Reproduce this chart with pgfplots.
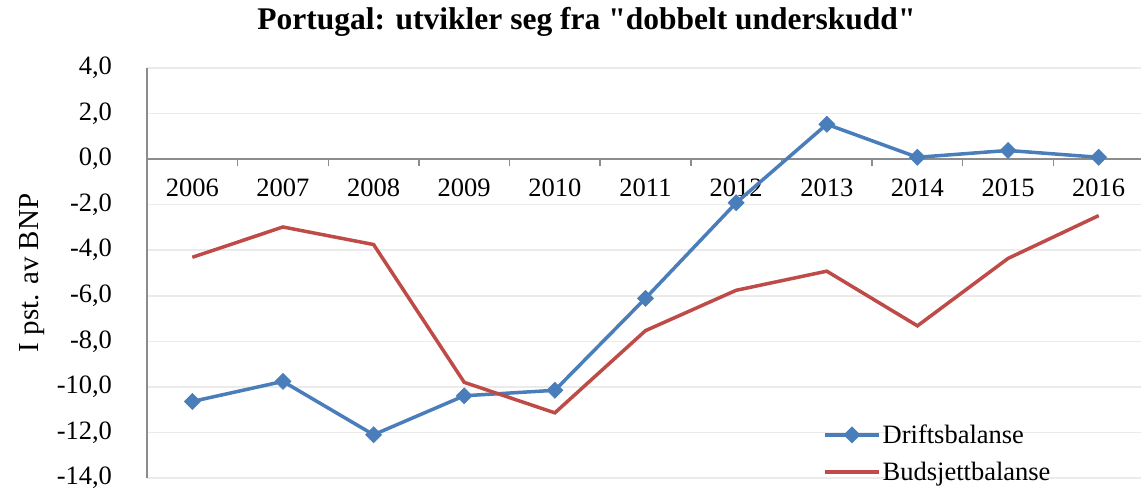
\documentclass[border=0pt]{standalone}
\usepackage{fontspec}
\setmainfont{Liberation Serif}[Ligatures=TeXOff]
\usepackage{pgfplots}
\pgfplotsset{compat=1.18}
\definecolor{blueS}{HTML}{4A7EBB}
\definecolor{redS}{HTML}{BE4B48}
\definecolor{gridc}{HTML}{EBEBEB}
\definecolor{axc}{HTML}{8C8C8C}
\begin{document}
\begin{tikzpicture}
\begin{axis}[
  scale only axis, width=997pt, height=410pt,
  xmin=-0.5, xmax=10.5, ymin=-14, ymax=4,
  axis x line=middle, axis y line=left,
  hide obscured x ticks=false,
  axis line style={-, draw=axc, line width=1.5pt},
  xtick={-0.5,0.5,...,10.5}, x tick label as interval,
  xticklabels={2006,2007,2008,2009,2010,2011,2012,2013,2014,2015,2016},
  xtick align=outside, major tick length=7pt,
  x tick style={draw=axc, line width=1.5pt},
  ytick={-14,-12,...,4},
  yticklabels={{-14,0},{-12,0},{-10,0},{-8,0},{-6,0},{-4,0},{-2,0},{0,0},{2,0},{4,0}},
  y tick style={draw=none},
  ymajorgrids, grid style={draw=gridc, line width=1.5pt},
  tick label style={font=\fontsize{26.5}{30}\selectfont},
  yticklabel style={xshift=-28pt},
  xticklabel style={yshift=-9pt},
  ylabel={I pst. av BNP},
  ylabel style={at={(axis description cs:-0.115,0.5)}, anchor=center, font=\fontsize{29}{33}\selectfont},
  title={Portugal: utvikler seg fra "dobbelt underskudd"},
  title style={at={(axis description cs:0.5,1)}, anchor=center, yshift=40pt, xshift=-59pt, font=\bfseries\fontsize{31.5}{36}\selectfont},
  legend style={at={(rel axis cs:0.675,0.14)}, anchor=north west, draw=none, fill=none,
    font=\fontsize{26.5}{30}\selectfont, row sep=13pt},
  legend cell align=left,
  legend image code/.code={\draw[mark repeat=2,mark phase=2,#1] plot coordinates {(0pt,0pt) (27pt,0pt) (54pt,0pt)};},
  clip=false,
]
\addplot[blueS, line width=3.5pt, mark=square*, mark size=5.5pt, mark options={rotate=45, line width=1pt}]
coordinates {(0,-10.64) (1,-9.76) (2,-12.10) (3,-10.39) (4,-10.15) (5,-6.11) (6,-1.92) (7,1.53) (8,0.08) (9,0.38) (10,0.08)};
\addlegendentry{Driftsbalanse}
\addplot[redS, line width=3.5pt, mark=none]
coordinates {(0,-4.31) (1,-2.98) (2,-3.75) (3,-9.80) (4,-11.14) (5,-7.53) (6,-5.76) (7,-4.92) (8,-7.32) (9,-4.36) (10,-2.48)};
\addlegendentry{Budsjettbalanse}
\coordinate (BL) at (rel axis cs:0,0);
\coordinate (TR) at (rel axis cs:1,1);
\end{axis}
\pgfresetboundingbox
\path ([xshift=-147pt,yshift=-10pt]BL) rectangle ([xshift=-3pt,yshift=68pt]TR);
\end{tikzpicture}
\end{document}
